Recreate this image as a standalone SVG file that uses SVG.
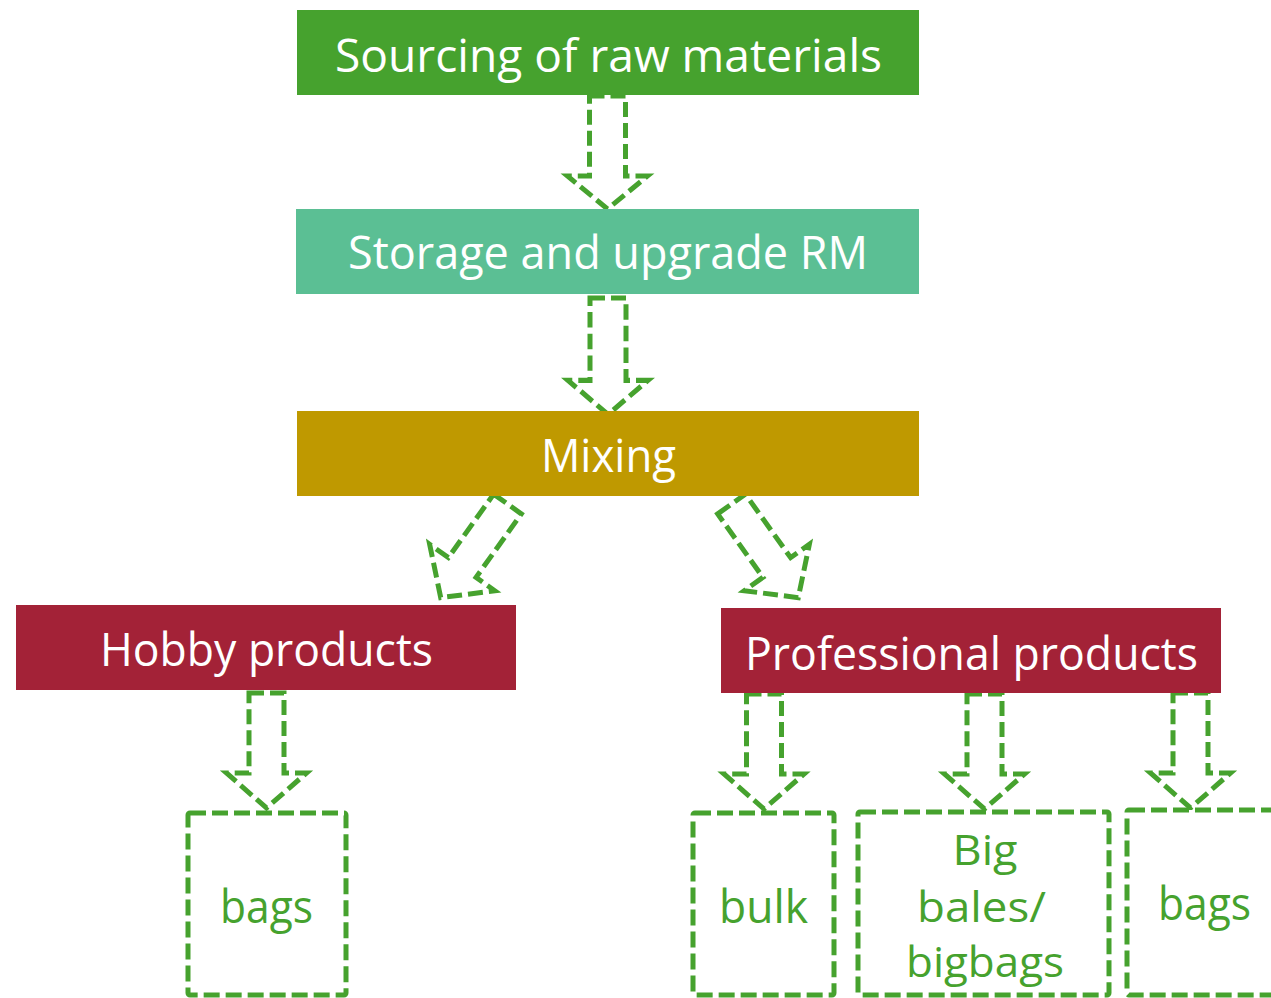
<svg xmlns="http://www.w3.org/2000/svg" xmlns:xlink="http://www.w3.org/1999/xlink" width="1271" height="998" viewBox="0 0 1271 998">
  <style>
    .lbl { font-family: "Open Sans", "Noto Sans", "DejaVu Sans", sans-serif; font-size: 46px; text-anchor: middle; }
    .stack { font-size: 42px; }
    .white { fill: #ffffff; }
    .greenTxt { fill: #46A22E; }
    .dash { fill: none; stroke: #46A22E; stroke-width: 5; stroke-dasharray: 15 6; }
    .dashBox { fill: #ffffff; stroke: #46A22E; stroke-width: 5; stroke-dasharray: 16 6; }
  </style>
  <defs>
    <!-- hollow block arrow pointing down, origin at top centre of the shaft -->
    <path id="bigArrow" d="M -18,0 L 18,0 L 18,80 L 40,80 L 0,113 L -40,80 L -18,80 Z"/>
    <path id="diagArrow" d="M -17,0 L 17,0 L 17,78 L 40,78 L 0,115 L -40,78 L -17,78 Z"/>
    <path id="smallArrow" d="M -17.5,0 L 17.5,0 L 17.5,80 L 40,80 L 0,115 L -40,80 L -17.5,80 Z"/>
  </defs>

  <g id="connectors">
    <use xlink:href="#bigArrow" class="dash" transform="translate(607.5,96)"/>
    <use xlink:href="#bigArrow" class="dash" transform="translate(608,298) scale(1,1.03)"/>
    <use xlink:href="#diagArrow" class="dash" transform="translate(507.5,504) rotate(35.5)"/>
    <use xlink:href="#diagArrow" class="dash" transform="translate(731.5,504) rotate(-35.5)"/>
    <use xlink:href="#smallArrow" class="dash" transform="translate(266.5,693)"/>
    <use xlink:href="#smallArrow" class="dash" transform="translate(764,694)"/>
    <use xlink:href="#smallArrow" class="dash" transform="translate(984.5,694)"/>
    <use xlink:href="#smallArrow" class="dash" transform="translate(1190.5,693)"/>
  </g>

  <g id="sourcing">
    <rect x="297" y="10" width="622" height="85" fill="#46A22E"/>
    <text class="lbl white" x="608.5" y="72" textLength="547" lengthAdjust="spacingAndGlyphs">Sourcing of raw materials</text>
  </g>

  <g id="storage">
    <rect x="296" y="209" width="623" height="85" fill="#5BBF94"/>
    <text class="lbl white" x="608" y="269" textLength="520" lengthAdjust="spacingAndGlyphs">Storage and upgrade RM</text>
  </g>

  <g id="mixing">
    <rect x="297" y="411" width="622" height="85" fill="#BF9900"/>
    <text class="lbl white" x="608.5" y="472" textLength="135" lengthAdjust="spacingAndGlyphs">Mixing</text>
  </g>

  <g id="hobby">
    <rect x="16" y="605" width="500" height="85" fill="#A32237"/>
    <text class="lbl white" x="266.5" y="666" textLength="333" lengthAdjust="spacingAndGlyphs">Hobby products</text>
  </g>

  <g id="professional">
    <rect x="721" y="608" width="500" height="85" fill="#A32237"/>
    <text class="lbl white" x="971.5" y="670" textLength="453" lengthAdjust="spacingAndGlyphs">Professional products</text>
  </g>

  <g id="hobby-bags">
    <rect class="dashBox" x="188" y="813" width="158" height="182" rx="2"/>
    <text class="lbl greenTxt" x="266.5" y="923" textLength="93" lengthAdjust="spacingAndGlyphs">bags</text>
  </g>

  <g id="bulk">
    <rect class="dashBox" x="693" y="813" width="141" height="182" rx="2"/>
    <text class="lbl greenTxt" x="763.5" y="923" textLength="89" lengthAdjust="spacingAndGlyphs">bulk</text>
  </g>

  <g id="bigbags">
    <rect class="dashBox" x="858" y="812" width="251" height="183" rx="2"/>
    <text class="lbl stack greenTxt" x="985" y="865" textLength="65" lengthAdjust="spacingAndGlyphs">Big</text>
    <text class="lbl stack greenTxt" x="981.5" y="922" textLength="129" lengthAdjust="spacingAndGlyphs">bales/</text>
    <text class="lbl stack greenTxt" x="985" y="977" textLength="158" lengthAdjust="spacingAndGlyphs">bigbags</text>
  </g>

  <g id="pro-bags">
    <rect class="dashBox" x="1127" y="810" width="160" height="185" rx="2"/>
    <text class="lbl greenTxt" x="1204.5" y="920" textLength="93" lengthAdjust="spacingAndGlyphs">bags</text>
  </g>
</svg>
